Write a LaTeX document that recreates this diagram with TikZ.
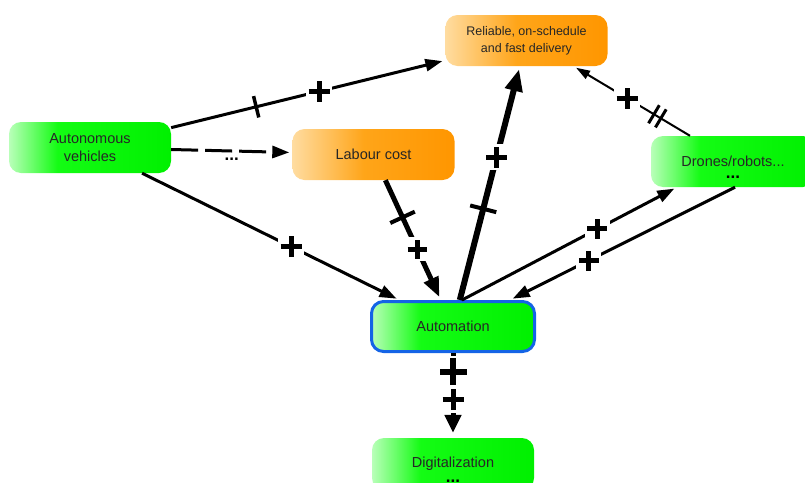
\documentclass[tikz,border=0pt]{standalone}
\usepackage{fontspec}
\setmainfont{Liberation Sans}
\usetikzlibrary{arrows.meta,calc}
\newcommand{\pplus}[2]{\makebox[#1]{\rule[-0.5\dimexpr#2\relax]{#1}{#2}\hspace{-0.5\dimexpr#1+#2\relax}\rule[-0.5\dimexpr#1\relax]{#2}{#1}\hspace{0.5\dimexpr#1-#2\relax}}}
\newcommand{\tickmark}[2]{\rule[-0.5\dimexpr#2\relax]{#1}{#2}}
\definecolor{glight}{RGB}{185,255,185}
\definecolor{gmid}{RGB}{20,252,20}
\definecolor{gdark}{RGB}{0,240,0}
\definecolor{olight}{RGB}{255,220,160}
\definecolor{omid}{RGB}{255,165,25}
\definecolor{odark}{RGB}{255,150,0}
\definecolor{bluebd}{RGB}{20,100,230}
\pgfdeclarehorizontalshading{greensh}{100bp}{color(0bp)=(glight); color(25bp)=(glight); color(40bp)=(gmid); color(75bp)=(gdark); color(100bp)=(gdark)}
\pgfdeclarehorizontalshading{orangesh}{100bp}{color(0bp)=(olight); color(25bp)=(olight); color(47bp)=(omid); color(75bp)=(odark); color(100bp)=(odark)}
\tikzset{
  box/.style={rounded corners=12pt, minimum height=51pt, minimum width=162pt, inner sep=0pt,
    align=center, font=\fontsize{14.5}{18}\selectfont, text=black!85},
  gbox/.style={box, shading=greensh},
  obox/.style={box, shading=orangesh},
  conn/.style={line width=3pt, -{Triangle[length=17pt,width=12pt]}, shorten >=3pt},
  pl/.style={fill=white, inner sep=2.5pt},
  tk/.style={sloped, inner sep=0pt, outer sep=0pt},
  dots/.style={font=\fontsize{17}{18}\selectfont\bfseries}
}
\begin{document}
\begin{tikzpicture}[x=1pt,y=-1pt]
\useasboundingbox (0,0) rectangle (805,482);

\node[gbox] (auto) at (90,147.5) {Autonomous\\vehicles};
\node[obox] (labour) at (373.5,154.5) {Labour cost};
\node[obox, font=\fontsize{12.5}{17}\selectfont] (rel) at (526.5,40.5) {Reliable, on-schedule\\and fast delivery};
\node[gbox, minimum width=164pt, label={[yshift=-16pt,dots]center:...}] (drones) at (733,161.5) {Drones/robots...};
\node[gbox, minimum width=163pt, minimum height=50pt, draw=bluebd, line width=3pt] (autom) at (453,326.5) {Automation};
\node[gbox, minimum height=52pt, label={[yshift=-17pt,dots]center:...}] (digit) at (453,464) {Digitalization};

% Autonomous -> Reliable
\draw[conn] (auto) -- node[tk,pos=0.31]{\tickmark{3.5pt}{22pt}} node[pl,pos=0.54]{\pplus{21pt}{5pt}} (rel);
% Autonomous -> Labour cost
\draw[conn, dash pattern=on 27pt off 7pt] (auto) -- node[below=2pt, dots]{...} (labour);
% Autonomous -> Automation
\draw[conn] (auto) -- node[pl,pos=0.58]{\pplus{21pt}{5pt}} (autom);
% Labour cost -> Automation
\draw[conn, line width=5pt, -{Triangle[length=20pt,width=15pt]}] (labour) -- node[tk,pos=0.31]{\tickmark{4pt}{27pt}} node[pl,pos=0.575]{\pplus{19pt}{5pt}} (autom);
% Automation -> Reliable
\draw[conn, line width=6pt, -{Triangle[length=22pt,width=17pt]}] (autom) -- node[tk,pos=0.39]{\tickmark{4pt}{27pt}} node[pl,pos=0.61]{\pplus{21pt}{5.5pt}} (rel);
% Automation -> Drones
\draw[conn] ([xshift=9pt]autom.north) -- node[pl,pos=0.63]{\pplus{20pt}{5pt}} ([xshift=-56pt]drones.south);
% Drones -> Automation
\draw[conn] ([xshift=2pt]drones.south) -- node[pl,pos=0.65]{\pplus{20pt}{5pt}} ([xshift=57pt]autom.north);
% Drones -> Reliable
\draw[conn, line width=2pt, -{Triangle[length=14pt,width=9pt]}] ([xshift=-43pt]drones.north) -- node[tk,pos=0.28]{\tickmark{3pt}{21pt}\hspace{5pt}\tickmark{3pt}{21pt}} node[pl,pos=0.54]{\pplus{21pt}{5pt}} ([xshift=47pt]rel.south);
% Automation -> Digitalization
\draw[conn, line width=5pt, -{Triangle[length=18pt,width=16pt]}, shorten >=5pt] (autom) -- node[pl,pos=0.22]{\pplus{27pt}{6pt}} node[pl,pos=0.55]{\pplus{21pt}{5pt}} (digit);
\end{tikzpicture}
\end{document}
